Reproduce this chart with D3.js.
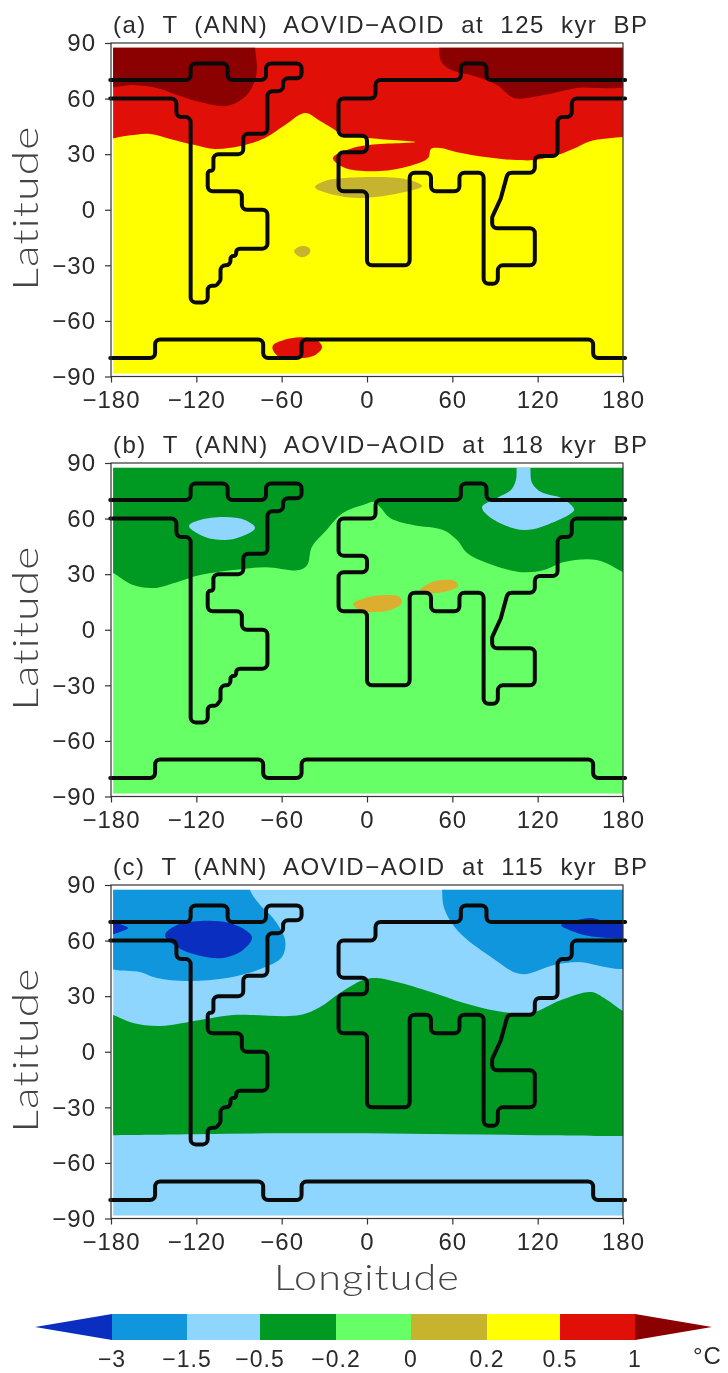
<!DOCTYPE html>
<html>
<head>
<meta charset="utf-8">
<script src="https://cdn.jsdelivr.net/npm/d3@7"></script>
<style>
  html, body { margin: 0; padding: 0; background: #fff; overflow: hidden; }
  svg { display: block; filter: blur(0.6px); }
  text { font-family: "Liberation Sans", sans-serif; fill: #2a2a2a; white-space: pre; letter-spacing: 1px; }
</style>
</head>
<body>
<svg id="chart" width="728" height="1373"></svg>
<script>
var lonTicks = [-180, -120, -60, 0, 60, 120, 180],
    latTicks = [-90, -60, -30, 0, 30, 60, 90];

var levels = [-3, -1.5, -0.5, -0.2, 0, 0.2, 0.5, 1],
    levelLabels = ["\u22123", "\u22121.5", "\u22120.5", "\u22120.2", "0", "0.2", "0.5", "1"],
    levelColors = ["#0a2fc0", "#0f96dc", "#8fd6ff", "#009922", "#66ff66", "#c6b42e", "#ffff00", "#e01008", "#8b0000"];

var titles = [
  "(a)  T  (ANN)  AOVID\u2212AOID  at  125  kyr  BP",
  "(b)  T  (ANN)  AOVID\u2212AOID  at  118  kyr  BP",
  "(c)  T  (ANN)  AOVID\u2212AOID  at  115  kyr  BP"
];

// land outline, lon/lat
var coastAmericas = [[-180.5,70],[-124,70],[-124,79],[-98,79],[-98,70],[-71,70],[-71,79],[-46,79],[-46,71],[-59,71],[-59,64],[-70,64],[-70,41],[-87,41],[-87,30],[-108,30],[-108,21],[-112,21],[-112,10],[-88,10],[-88,0],[-70,0],[-70,-21],[-92,-21],[-92,-25],[-96,-25],[-96,-30],[-103,-30],[-103,-38],[-106,-41],[-112,-41],[-112,-50],[-124,-50],[-124,50],[-134,50],[-134,60],[-180.5,60]];
var coastEurasia = [[181.5,70],[84,70],[84,79],[66,79],[66,70],[6,70],[6,60],[-20,60],[-20,40],[0,40],[0,31],[-20,31],[-20,10],[0,10],[0,-30],[30,-30],[30,20],[45,20],[45,10],[65,10],[65,20],[82,20],[82,-40],[92,-40],[92,-30],[118,-30],[118,-10],[88,-10],[88,-4],[94,6],[99,20],[118,20],[118,29],[134,29],[134,50],[144,50],[144,60],[181.5,60]];
var coastAntarctica = [[-180.5,-80],[-149,-80],[-149,-70],[-73,-70],[-73,-80],[-46,-80],[-46,-70],[159,-70],[159,-80],[181.5,-80]];

// panel a contours, corners run past the clip
var aRed = [[-186,95],[186,95],[186,39.4],[180,39.2],[157,37],[147.7,33.8],[133.7,29.5],[117.5,26.8],[105.5,26.8],[84.4,28.4],[63.3,31.1],[51.4,33.3],[45,32.8],[43,27.9],[30,23.6],[9,20.9],[-15.5,22.5],[-24,27.9],[-12,32.8],[0.7,34.9],[33.8,36.5],[0.7,38.7],[-19,40.9],[-22.5,43],[-33,47.9],[-43.6,52.2],[-57.6,45.7],[-71.7,38.7],[-89,34.4],[-107,32.8],[-121,34.9],[-138.5,38.2],[-152.6,40.9],[-170,39.8],[-186,39.2]];
var aDarkWest = [[-186,95],[-79,95],[-78.7,87.5],[-77.4,77],[-78.7,70],[-84.4,61.9],[-98.4,56],[-117.4,58.1],[-133.6,61.9],[-147.7,65.7],[-164.5,67.3],[-186,67.3]];
var aDarkEast = [[50.4,95],[50.6,87.5],[52.8,79.2],[63.3,74.3],[73,72.7],[91.4,67.3],[103.3,60.3],[124.4,61.9],[147.7,65.7],[186,68.4],[186,95]];
var aOlive = [[-36.6,12.2],[-29.5,15.5],[-15.5,17.1],[26.7,16.6],[38.7,12.8],[23.2,9],[-4.9,6.3],[-22.5,7.9]];
var aOliveDot = [[-51.3,-22.3],[-48.5,-20.2],[-44.3,-19.6],[-40,-21.2],[-40.7,-23.9],[-45,-25.6],[-49.2,-24.5]];
var aRedSouth = [[-66.1,-73.1],[-59,-70.4],[-47.1,-68.8],[-35.2,-70.4],[-31.6,-74.2],[-36.6,-78.5],[-47.1,-80.1],[-61.2,-79.6],[-66.1,-75.8]];

// panel b contours
var bDark = [[-186,95],[186,95],[186,29],[180,31.1],[161.7,37.6],[138.5,36.5],[124.4,32.2],[108.3,31.1],[84.4,36],[70.4,41.4],[63.3,48.4],[53.5,53.8],[32.4,56.5],[16.2,60.3],[9.2,66.2],[5,69],[-2.8,67.3],[-17,63],[-29.7,52.7],[-38.8,44.6],[-42,34.9],[-47.7,32.2],[-71,33.8],[-94.5,32.2],[-117.4,29.5],[-133.6,25.7],[-150.5,22.5],[-164.5,24.1],[-178.5,30.6],[-186,33]];
var bBlueWest = [[-125.2,56],[-117.4,59.2],[-99.8,60.8],[-85.8,59.2],[-78.7,54.9],[-89.3,50],[-99.8,48.4],[-113.9,50]];
var bBlueEast = [[105.4,95],[105.2,87.5],[104.7,80.8],[101.2,75.4],[91.4,71.1],[80.9,66.2],[87.2,60.3],[110.4,53.8],[131.5,58.1],[145.6,64.6],[143.5,67.3],[136.5,71.1],[122.4,74.3],[116.1,79.2],[114.9,87.5],[114.7,95]];
var bOrangeWest = [[-9.8,13.9],[-1.4,17.1],[12.7,18.7],[23.2,17.6],[24.6,14.4],[16.2,10.6],[2.1,9.5],[-6.3,11.2]];
var bOrangeEast = [[37.3,21.4],[44.3,25.2],[52.8,26.8],[61.9,26.3],[64,23.6],[57,20.9],[45.7,19.8]];

// panel c contours
var cGreen = [[-186,21],[-178.5,19.8],[-164.5,15.5],[-145.5,13.9],[-117.4,17.1],[-94.2,19.8],[-47.1,19.8],[-33,24.1],[-19,31.7],[-2.8,38.7],[7,39.8],[21.1,37.6],[45,32.2],[68.2,26.3],[91.4,22],[115.3,20.9],[136.5,27.9],[157.6,32.2],[166.7,29],[180,22],[186,20],[190,-45.5],[180,-45.5],[120,-45],[60,-44.5],[0,-44],[-60,-44],[-120,-44.5],[-178.5,-45],[-190,-45]];
var cMidWest = [[-186,95],[-83,95],[-82.3,87.5],[-75.2,79.2],[-66.1,72.2],[-57.6,60.3],[-59.8,51.1],[-73.1,45.2],[-98.4,39.8],[-126.6,38.2],[-147.7,39.8],[-159.6,43],[-186,47.5]];
var cMidEast = [[52.6,95],[52.8,87.5],[54.2,77.6],[63.3,65.7],[87.2,51.1],[108.3,41.9],[131.5,46.8],[147.7,48.4],[186,46.5],[186,95]];
var cDarkWest = [[-142,63],[-133.6,68.4],[-117.4,70.6],[-94.2,68.9],[-80.9,61.9],[-87.2,54.9],[-101.2,50.6],[-119.5,52.2],[-133.6,56.5]];
var cDarkEdge = [[-186,70],[-168,66.8],[-173.6,64.6],[-186,63]];
var cDarkEast = [[136.5,68.4],[147.7,71.1],[157.6,72.2],[166.7,70.6],[186,70],[186,62.5],[161.7,61.9],[147.7,64.1]];

var yellow = levelColors[6], red = levelColors[7], darkRed = levelColors[8],
    olive = levelColors[5], darkGreen = levelColors[3], lightGreen = levelColors[4],
    skyBlue = levelColors[2], midBlue = levelColors[1], darkBlue = levelColors[0],
    orange = "#dcae30";

var panels = [
  { top: 43, base: yellow, layers: [[aRed, red], [aDarkWest, darkRed], [aDarkEast, darkRed], [aOlive, olive], [aOliveDot, olive], [aRedSouth, red]] },
  { top: 463, base: lightGreen, layers: [[bDark, darkGreen], [bBlueWest, skyBlue], [bBlueEast, skyBlue], [bOrangeWest, orange], [bOrangeEast, orange]] },
  { top: 885, base: skyBlue, layers: [[cGreen, darkGreen], [cMidWest, midBlue], [cMidEast, midBlue], [cDarkWest, darkBlue], [cDarkEdge, darkBlue], [cDarkEast, darkBlue]] }
];

var svg = d3.select("#chart"),
    left = 111, right = 623, mapHeight = 333.5;

var x = d3.scaleLinear().domain([-180, 180]).range([left, right]);

function fmt(d) { return String(d).replace("-", "\u2212"); }

// stepped outline with small rounded corners
function coastPath(points, y) {
  var p = d3.path(), r = 5;
  p.moveTo(x(points[0][0]), y(points[0][1]));
  for (var i = 1; i < points.length - 1; i++) {
    var x0 = x(points[i][0]), y0 = y(points[i][1]),
        x1 = x(points[i + 1][0]), y1 = y(points[i + 1][1]),
        prevLen = Math.hypot(x0 - x(points[i - 1][0]), y0 - y(points[i - 1][1])),
        nextLen = Math.hypot(x1 - x0, y1 - y0);
    p.arcTo(x0, y0, x1, y1, Math.min(r, prevLen / 2, nextLen / 2));
  }
  var last = points[points.length - 1];
  p.lineTo(x(last[0]), y(last[1]));
  return p.toString();
}

panels.forEach(function (panel, i) {
  var y = d3.scaleLinear().domain([-90, 90]).range([panel.top + mapHeight, panel.top]);
  var g = svg.append("g");
  var clipId = "map-clip-" + i;

  var line = d3.line()
    .x(function (d) { return x(d[0]); })
    .y(function (d) { return y(d[1]); })
    .curve(d3.curveCatmullRomClosed.alpha(0.5));

  g.append("clipPath").attr("id", clipId).append("rect")
    .attr("x", x(-178.5)).attr("y", y(87.5))
    .attr("width", x(180) - x(-178.5)).attr("height", y(-88.5) - y(87.5));

  var map = g.append("g").attr("clip-path", "url(#" + clipId + ")");

  map.append("rect")
    .attr("x", x(-178.5)).attr("y", y(87.5))
    .attr("width", x(180) - x(-178.5)).attr("height", y(-88.5) - y(87.5))
    .attr("fill", panel.base);

  map.selectAll("path").data(panel.layers).enter().append("path")
    .attr("d", function (d) { return line(d[0]); })
    .attr("fill", function (d) { return d[1]; });

  g.selectAll("path.coast").data([coastAmericas, coastEurasia, coastAntarctica]).enter().append("path")
    .attr("class", "coast")
    .attr("d", function (d) { return coastPath(d, y); })
    .attr("fill", "none")
    .attr("stroke", "#0a0a0a")
    .attr("stroke-width", 4)
    .attr("stroke-linecap", "round");

  g.append("rect")
    .attr("x", left).attr("y", panel.top)
    .attr("width", right - left).attr("height", mapHeight)
    .attr("fill", "none").attr("stroke", "#333").attr("stroke-width", 1.2);

  var yAxis = g.append("g").attr("transform", "translate(" + left + ",0)")
    .call(d3.axisLeft(y).tickValues(latTicks).tickSize(6).tickPadding(9).tickFormat(fmt));
  var xAxis = g.append("g").attr("transform", "translate(0," + (panel.top + mapHeight) + ")")
    .call(d3.axisBottom(x).tickValues(lonTicks).tickSize(6).tickPadding(8).tickFormat(fmt));

  [yAxis, xAxis].forEach(function (a) {
    a.select(".domain").remove();
    a.selectAll("line").attr("stroke", "#333").attr("stroke-width", 1.2);
    a.selectAll("text").style("font-family", "Liberation Sans").style("font-size", "24px").attr("fill", "#2a2a2a");
  });

  g.append("text")
    .attr("x", 113).attr("y", panel.top - 10)
    .attr("textLength", 535).attr("lengthAdjust", "spacing")
    .style("font-size", "24px")
    .text(titles[i]);

  g.append("text")
    .attr("transform", "translate(38," + (panel.top + 165) + ") rotate(-90)")
    .attr("text-anchor", "middle")
    .attr("textLength", 165).attr("lengthAdjust", "spacingAndGlyphs")
    .style("font-family", "Lato").style("font-weight", 300)
    .style("font-size", "36px").style("fill", "#444")
    .text("Latitude");
});

svg.append("text")
  .attr("x", 367).attr("y", 1290)
  .attr("text-anchor", "middle")
  .attr("textLength", 186).attr("lengthAdjust", "spacingAndGlyphs")
  .style("font-family", "Lato").style("font-weight", 300)
  .style("font-size", "36px").style("fill", "#444")
  .text("Longitude");

// colour bar
var barX = d3.scaleLinear().domain(d3.range(levels.length)).range([112, 187, 260, 336, 411, 487, 560, 635]),
    barTop = 1314, barBottom = 1340, barMid = (barTop + barBottom) / 2,
    bar = svg.append("g");

bar.selectAll("rect").data(d3.range(levels.length - 1)).enter().append("rect")
  .attr("x", function (i) { return barX(i); })
  .attr("y", barTop)
  .attr("width", function (i) { return barX(i + 1) - barX(i); })
  .attr("height", barBottom - barTop)
  .attr("fill", function (i) { return levelColors[i + 1]; });

bar.append("path")
  .attr("d", d3.line()([[barX(0), barTop], [35, barMid], [barX(0), barBottom]]) + "Z")
  .attr("fill", levelColors[0]);
bar.append("path")
  .attr("d", d3.line()([[barX(7), barTop], [712, barMid], [barX(7), barBottom]]) + "Z")
  .attr("fill", levelColors[8]);

bar.selectAll("text").data(levelLabels).enter().append("text")
  .attr("x", function (d, i) { return barX(i); })
  .attr("y", 1367)
  .attr("text-anchor", "middle")
  .style("font-size", "23px")
  .text(function (d) { return d; });

svg.append("text")
  .attr("x", 693).attr("y", 1364)
  .style("font-size", "24px")
  .text("\u00b0C");
</script>
</body>
</html>
